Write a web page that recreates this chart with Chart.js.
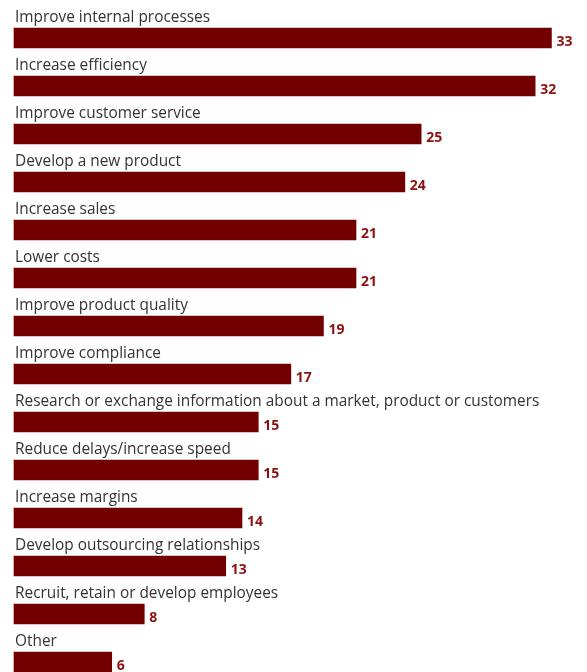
<!DOCTYPE html>
<html>
<head>
<meta charset="utf-8">
<script src="https://cdn.jsdelivr.net/npm/chart.js@4.4.0/dist/chart.umd.min.js"></script>
<style>
  html, body { margin: 0; padding: 0; background: #fff; }
  #wrap { width: 587px; height: 672px; position: relative; }
</style>
</head>
<body>
<div id="wrap"><canvas id="goalsBar"></canvas></div>
<script>
var goals = [
  'Improve internal processes',
  'Increase efficiency',
  'Improve customer service',
  'Develop a new product',
  'Increase sales',
  'Lower costs',
  'Improve product quality',
  'Improve compliance',
  'Research or exchange information about a market, product or customers',
  'Reduce delays/increase speed',
  'Increase margins',
  'Develop outsourcing relationships',
  'Recruit, retain or develop employees',
  'Other'
];
var shares = [33, 32, 25, 24, 21, 21, 19, 17, 15, 15, 14, 13, 8, 6];

var barColor = '#730000';
var numColor = '#8a1212';
var textColor = '#333333';

// names above each bar, numbers after its end
var barLabels = {
  id: 'barLabels',
  afterDatasetsDraw: function(chart) {
    var ctx = chart.ctx;
    var meta = chart.getDatasetMeta(0);
    ctx.save();
    ctx.textBaseline = 'alphabetic';
    meta.data.forEach(function(bar, i) {
      var top = bar.y - bar.height / 2;
      ctx.font = '15.4px "Open Sans"';
      ctx.fillStyle = textColor;
      ctx.textAlign = 'left';
      ctx.fillText(goals[i], chart.chartArea.left + 1, top - 6);
      ctx.font = 'bold 14px "Open Sans"';
      ctx.fillStyle = numColor;
      ctx.fillText(String(shares[i]), bar.x + 5, top + 18);
    });
    ctx.restore();
  }
};

var goalsBar = new Chart('goalsBar', {
  type: 'bar',
  data: {
    labels: goals,
    datasets: [{
      data: shares,
      backgroundColor: barColor,
      barThickness: 20,
      borderWidth: 0,
      clip: false
    }]
  },
  options: {
    indexAxis: 'y',
    responsive: true,
    maintainAspectRatio: false,
    animation: false,
    layout: { padding: { left: 14, right: 3, top: 38, bottom: 10 } },
    scales: {
      x: { display: false, min: 0, max: 35 },
      y: { display: false, offset: false }
    },
    plugins: {
      legend: { display: false },
      tooltip: { enabled: false }
    }
  },
  plugins: [barLabels]
});
</script>
</body>
</html>
